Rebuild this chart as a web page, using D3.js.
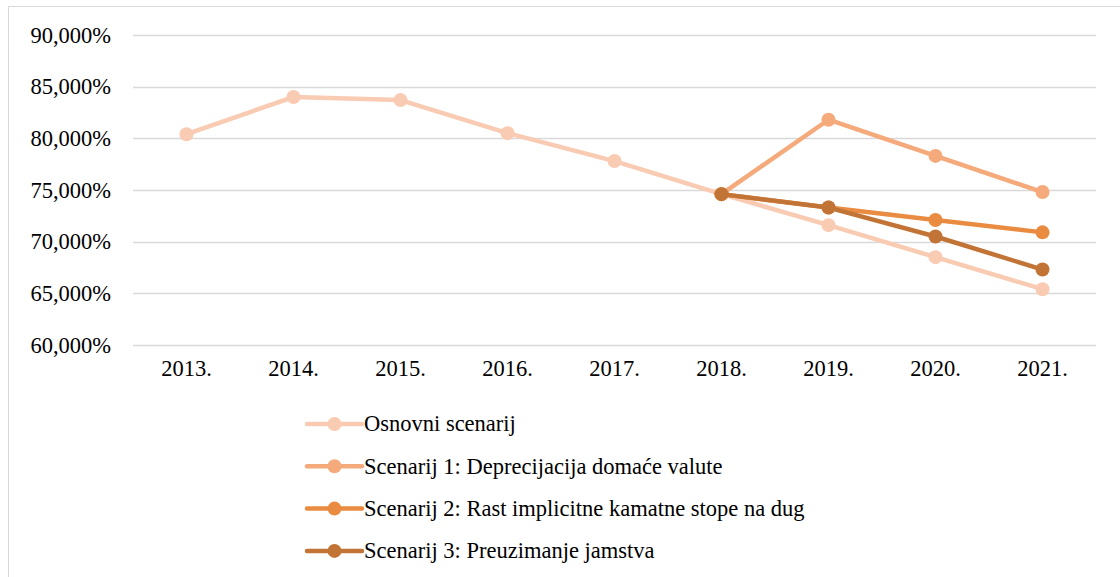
<!DOCTYPE html>
<html>
<head>
<meta charset="utf-8">
<script src="https://cdn.jsdelivr.net/npm/d3@7"></script>
</head>
<body style="margin:0;background:#fff">
<svg id="chart" width="1120" height="577" font-family="Times New Roman, Liberation Serif, serif"></svg>
<script>
var years = ["2013.", "2014.", "2015.", "2016.", "2017.", "2018.", "2019.", "2020.", "2021."];
var yTicks = [60, 65, 70, 75, 80, 85, 90];

var osnovni = [80.4, 84.0, 83.7, 80.5, 77.8, 74.6, 71.6, 68.5, 65.4];
var scenarij1 = [null, null, null, null, null, 74.6, 81.8, 78.3, 74.8];
var scenarij2 = [null, null, null, null, null, 74.6, 73.3, 72.1, 70.9];
var scenarij3 = [null, null, null, null, null, 74.6, 73.3, 70.5, 67.3];

var seriesNames = [
    "Osnovni scenarij",
    "Scenarij 1: Deprecijacija domaće valute",
    "Scenarij 2: Rast implicitne kamatne stope na dug",
    "Scenarij 3: Preuzimanje jamstva"
];
var seriesColors = ["#f8cbb2", "#f5aa7b", "#e98c41", "#c27436"];

var series = [osnovni, scenarij1, scenarij2, scenarij3].map(function (vals, i) {
    return { name: seriesNames[i], color: seriesColors[i], values: vals };
});

var FONT = "Times New Roman, Liberation Serif, serif";
var FS = 22.5;

var svg = d3.select("#chart");

// outer chart border (top and left only visible)
svg.append("rect")
    .attr("x", 8.5).attr("y", 6.5)
    .attr("width", 1130).attr("height", 600)
    .attr("fill", "none")
    .attr("stroke", "#d9d9d9");

var x = d3.scaleBand().domain(years).range([133, 1096]);
var y = d3.scaleLinear().domain([60, 90]).range([345, 35]);

// gridlines
svg.append("g").selectAll("line")
    .data(yTicks)
    .enter().append("line")
    .attr("x1", 133).attr("x2", 1096)
    .attr("y1", function (d) { return Math.round(y(d)) + 0.5; })
    .attr("y2", function (d) { return Math.round(y(d)) + 0.5; })
    .attr("stroke", "#d9d9d9")
    .attr("stroke-width", 1.5);

var fmt = function (d) { return d + ",000%"; };

var yAxis = svg.append("g")
    .attr("transform", "translate(111,0)")
    .call(d3.axisLeft(y).tickValues(yTicks).tickFormat(fmt).tickSize(0).tickPadding(0));
yAxis.select(".domain").remove();

var xAxis = svg.append("g")
    .attr("transform", "translate(0,345)")
    .call(d3.axisBottom(x).tickSize(0).tickPadding(15));
xAxis.select(".domain").remove();

var cx = function (i) { return x(years[i]) + x.bandwidth() / 2; };

var line = d3.line()
    .defined(function (d) { return d != null; })
    .x(function (d, i) { return cx(i); })
    .y(function (d) { return y(d); });

// draw base first, then scenarios 1..3
series.forEach(function (s) {
    var g = svg.append("g");
    g.append("path")
        .datum(s.values)
        .attr("d", line)
        .attr("fill", "none")
        .attr("stroke", s.color)
        .attr("stroke-width", 4.5)
        .attr("stroke-linejoin", "round");
    g.selectAll("circle")
        .data(s.values.map(function (v, i) { return { v: v, i: i }; }).filter(function (d) { return d.v != null; }))
        .enter().append("circle")
        .attr("cx", function (d) { return cx(d.i); })
        .attr("cy", function (d) { return y(d.v); })
        .attr("r", 7)
        .attr("fill", s.color);
});

// legend
var legend = svg.append("g").selectAll("g")
    .data(series)
    .enter().append("g")
    .attr("transform", function (d, i) { return "translate(307," + (424 + i * 42.3) + ")"; });

legend.append("line")
    .attr("x1", 0).attr("x2", 55)
    .attr("stroke", function (d) { return d.color; })
    .attr("stroke-width", 4.5)
    .attr("stroke-linecap", "round");
legend.append("circle")
    .attr("cx", 27.5).attr("r", 7)
    .attr("fill", function (d) { return d.color; });
legend.append("text")
    .attr("x", 57)
    .attr("dy", "0.33em")
    .text(function (d) { return d.name; });

// same font for every text
svg.selectAll("g").attr("font-family", null).attr("font-size", null);
svg.selectAll("text")
    .attr("font-family", FONT)
    .attr("font-size", FS)
    .attr("fill", "#000");
</script>
</body>
</html>
